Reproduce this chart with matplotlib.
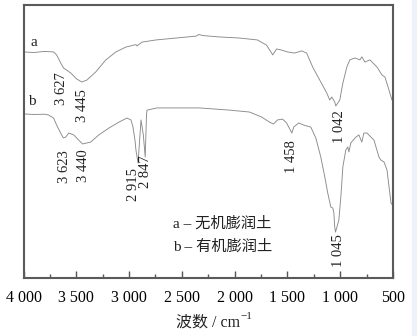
import matplotlib
matplotlib.use("Agg")
import matplotlib.pyplot as plt
from matplotlib.ticker import MultipleLocator, FuncFormatter
from matplotlib.patches import Rectangle

plt.rcParams["font.family"] = ["Liberation Serif", "Noto Sans CJK SC"]

# IR spectrum a: inorganic bentonite (wavenumber, transmittance %)
wn_a = [4000, 3900, 3800, 3715, 3686, 3648, 3620, 3553, 3496, 3448, 3400,
        3315, 3220, 3125, 3030, 2935, 2925, 2878, 2745, 2555, 2365, 2340,
        2300, 2145, 1955, 1784, 1698, 1650, 1640, 1603, 1556, 1500, 1432,
        1365, 1318, 1261, 1194, 1128, 1099, 1080, 1052, 1042, 1004, 975,
        937, 909, 861, 814, 795, 766, 719, 652, 605, 576, 547, 510, 500]
tr_a = [82.8, 82.6, 83.0, 82.8, 81.7, 78.8, 76.9, 75.1, 72.9, 71.8, 72.5,
        75.5, 79.9, 82.8, 84.6, 85.5, 85.0, 86.4, 87.2, 87.9, 88.6, 89.2,
        88.8, 88.3, 87.9, 87.2, 85.3, 82.4, 81.7, 83.9, 83.5, 82.8, 82.4,
        83.2, 82.4, 77.3, 72.5, 67.8, 65.2, 66.3, 64.5, 63.0, 65.2, 71.4,
        77.3, 79.9, 80.6, 79.9, 81.0, 79.1, 79.9, 77.3, 74.4, 73.6, 70.0,
        65.2, 67.0]

# IR spectrum b: organic bentonite
wn_b = [4000, 3900, 3800, 3762, 3715, 3686, 3648, 3623, 3600, 3572, 3524,
        3477, 3440, 3363, 3287, 3192, 3096, 3020, 2982, 2963, 2944, 2935,
        2915, 2900, 2887, 2865, 2847, 2835, 2830, 2735, 2335, 2050, 1860,
        1746, 1670, 1632, 1594, 1546, 1508, 1458, 1440, 1393, 1346, 1279,
        1231, 1184, 1146, 1118, 1089, 1070, 1060, 1052, 1045, 1013, 994,
        975, 947, 928, 918, 899, 852, 823, 795, 776, 747, 680, 633, 614,
        585, 557, 519, 505]
tr_b = [60.1, 59.9, 60.0, 59.7, 58.6, 56.0, 53.1, 51.3, 51.6, 53.1, 52.4,
        50.5, 49.1, 49.8, 52.4, 54.9, 57.1, 58.6, 57.9, 55.3, 50.5, 46.9,
        42.1, 50.5, 57.9, 52.4, 44.3, 59.7, 61.5, 62.3, 62.3, 61.5, 60.8,
        59.0, 57.1, 56.4, 57.9, 58.2, 56.8, 53.1, 55.3, 56.8, 56.0, 55.3,
        51.3, 44.3, 37.0, 31.1, 26.0, 25.6, 23.8, 18.7, 16.8, 21.2, 29.7,
        40.7, 46.9, 48.0, 46.2, 49.5, 51.6, 52.4, 49.8, 53.1, 53.1, 50.5,
        44.3, 43.2, 42.5, 39.6, 27.5, 26.7]

# band labels: text, x (cm-1), y (%)
band_text = ["3 627", "3 445", "3 623", "3 440", "2 915", "2 847",
             "1 458", "1 042", "1 045"]
band_x = [3640, 3445, 3610, 3430, 2960, 2840, 1458, 1004, 1013]
band_y = [69.2, 63.0, 40.7, 41.0, 34.1, 38.8, 44.3, 55.3, 9.9]

fig = plt.figure(figsize=(4.17, 3.36), dpi=100)
fig.patches.append(Rectangle((412 / 417, 0), 5 / 417, 1, transform=fig.transFigure,
                             color="#eef2fa", zorder=-1))
ax = fig.add_axes([23.5 / 417, 58 / 336, 369.5 / 417, 273 / 336])

line_kw = dict(color="#8a8a8a", lw=0.65)
ax.plot(wn_a, tr_a, **line_kw)
ax.plot(wn_b, tr_b, **line_kw)

for t, x, y in zip(band_text, band_x, band_y):
    ax.text(x, y, t, rotation=90, ha="center", va="center", fontsize=10.5,
            color="#222222")

ax.text(3905, 86.1, "a", ha="center", va="center", fontsize=11, color="#222222")
ax.text(3924, 64.5, "b", ha="center", va="center", fontsize=11, color="#222222")

ax.text(0.405, 0.198, "a – 无机膨润土", transform=ax.transAxes, fontsize=11,
        va="center", color="#222222")
ax.text(0.405, 0.114, "b – 有机膨润土", transform=ax.transAxes, fontsize=11,
        va="center", color="#222222")

ax.set_xlim(4000, 500)
ax.set_ylim(0, 100)
ax.xaxis.set_major_locator(MultipleLocator(500))
ax.xaxis.set_minor_locator(MultipleLocator(250))
ax.xaxis.set_major_formatter(FuncFormatter(lambda v, p: f"{int(v):,}".replace(",", " ")))
ax.set_yticks([])
ax.tick_params(axis="x", which="major", direction="in", length=5, width=1,
               color="#555555", labelsize=11.5, pad=9, top=False)
ax.tick_params(axis="x", which="minor", direction="in", length=3, width=1,
               color="#555555", top=False)
for s in ax.spines.values():
    s.set_color("#5a5a5a")
    s.set_linewidth(1.5)

# axis title with a raised "-1" exponent
xlab = fig.text(208 / 417, 1 - 323 / 336, "波数 / cm", fontsize=11.5,
                ha="center", va="center", color="#222222")
ax.annotate("−1", xy=(1, 0.62), xycoords=xlab, fontsize=8, color="#222222",
            va="bottom", ha="left")

fig.savefig("out.png", dpi=100)
